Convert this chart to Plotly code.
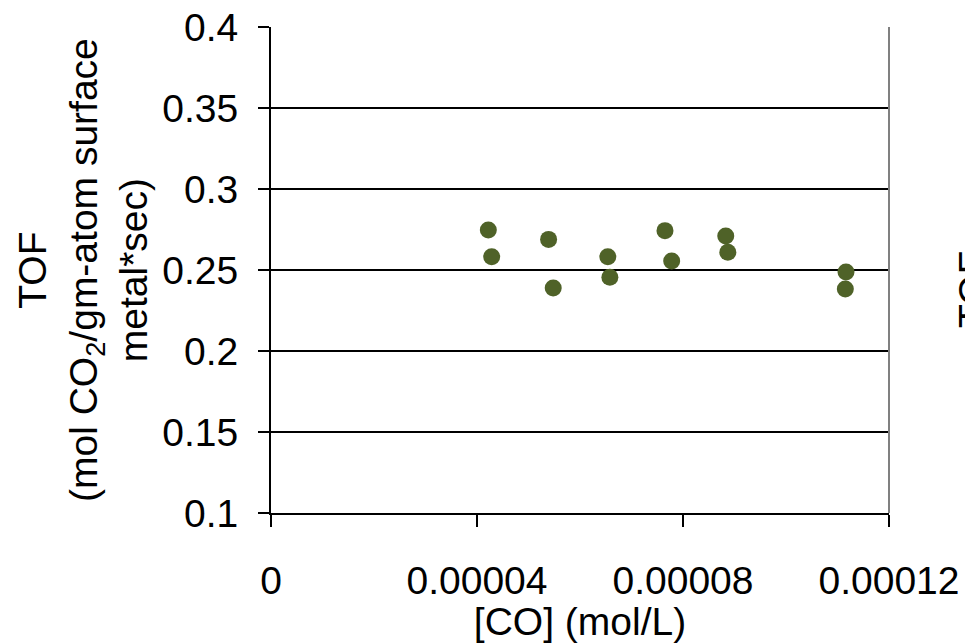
import plotly.graph_objects as go

# Data
co_conc = [4.22e-5, 4.285e-5, 5.39e-5, 5.48e-5, 6.54e-5, 6.58e-5,
           7.65e-5, 7.78e-5, 8.83e-5, 8.87e-5, 1.1165e-4, 1.1152e-4]
tof = [0.2747, 0.2582, 0.2689, 0.2389, 0.2582, 0.2455,
       0.2743, 0.2556, 0.2710, 0.2609, 0.2488, 0.2383]

x_tickvals = [0, 0.00004, 0.00008, 0.00012]
x_ticktext = ["0", "0.00004", "0.00008", "0.00012"]
y_tickvals = [0.1, 0.15, 0.2, 0.25, 0.3, 0.35, 0.4]
y_ticktext = ["0.1", "0.15", "0.2", "0.25", "0.3", "0.35", "0.4"]

FONT = "Liberation Sans, Arial, sans-serif"
FS = 39

fig = go.Figure()
fig.add_trace(go.Scatter(
    x=co_conc, y=tof, mode="markers",
    marker=dict(size=17, color="#4F6228", line=dict(width=0)),
    cliponaxis=False, showlegend=False,
))

fig.update_layout(
    width=965, height=643,
    margin=dict(l=271, r=76, t=27, b=130, autoexpand=False),
    paper_bgcolor="white", plot_bgcolor="white",
    font=dict(family=FONT, size=FS, color="black"),
    showlegend=False,
)
fig.update_xaxes(
    range=[0, 0.00012], tickvals=x_tickvals, ticktext=x_ticktext,
    showgrid=False, zeroline=False, automargin=False,
    showline=True, linecolor="black", linewidth=2,
    ticks="outside", ticklen=12, tickwidth=2, tickcolor="black",
    tickfont=dict(family=FONT, size=FS), ticklabelstandoff=20,
    title=dict(text="[CO] (mol/L)", font=dict(family=FONT, size=FS), standoff=2),
)
fig.update_yaxes(
    range=[0.1, 0.4], tickvals=y_tickvals, ticktext=y_ticktext,
    showgrid=True, gridcolor="black", gridwidth=1.6, zeroline=False, automargin=False,
    showline=True, linecolor="black", linewidth=2,
    ticks="outside", ticklen=11, tickwidth=2, tickcolor="black",
    tickfont=dict(family=FONT, size=FS), ticklabelstandoff=12,
)
# gray right border
fig.add_shape(type="line", xref="paper", yref="paper", x0=1, x1=1, y0=0, y1=1,
              line=dict(color="#808080", width=2))
# y-axis title (3 lines)
fig.add_annotation(
    xref="paper", yref="paper", x=(83 - 271) / 618, y=0.5,
    xanchor="center", yanchor="middle", textangle=-90, showarrow=False,
    text="TOF<br>(mol CO<sub>2</sub>/gm-atom surface<br>metal*sec)",
    font=dict(family=FONT, size=FS, color="black"),
)
# cut-off title of neighbouring chart
fig.add_annotation(
    xref="paper", yref="paper", x=(972 - 271) / 618, y=(513 - 290) / 486,
    xanchor="center", yanchor="middle", textangle=-90, showarrow=False,
    text="TOF", font=dict(family=FONT, size=FS, color="black"),
)

fig.write_html("out.html")
